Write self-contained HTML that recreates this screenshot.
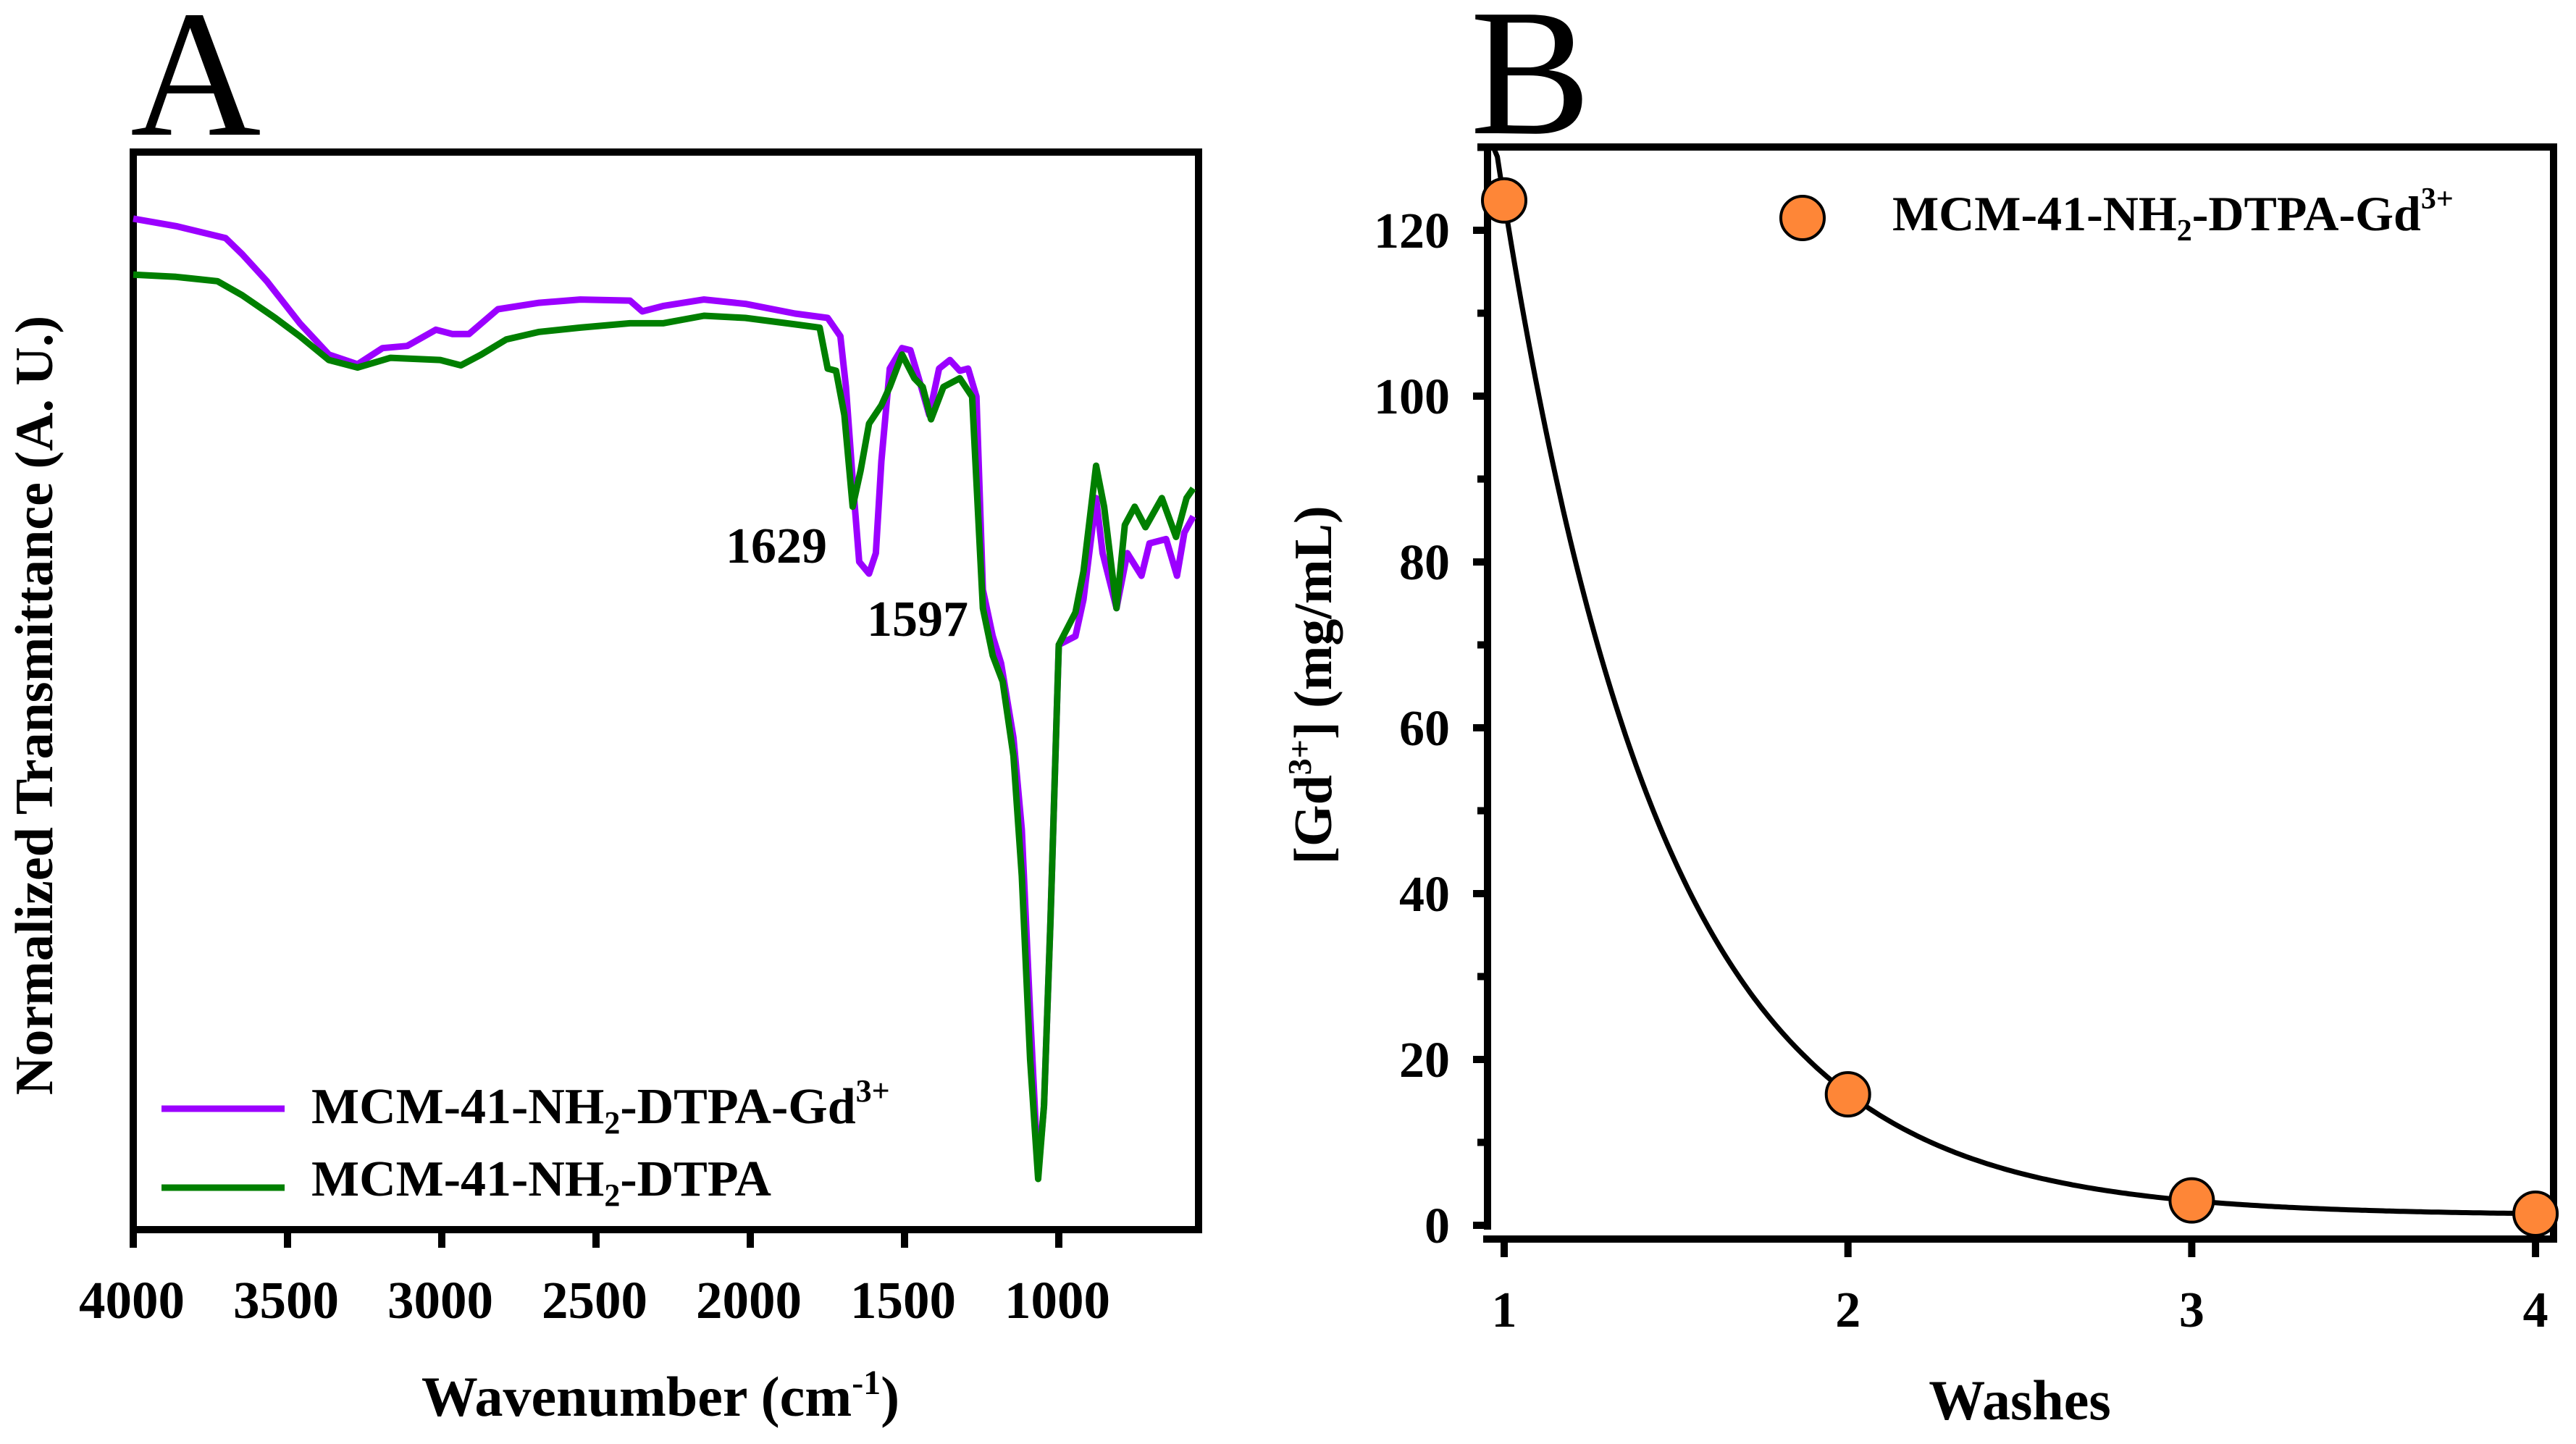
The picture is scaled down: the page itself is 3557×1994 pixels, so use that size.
<!DOCTYPE html>
<html><head><meta charset="utf-8"><style>
html,body{margin:0;padding:0;background:#fff;}
svg{display:block;font-family:"Liberation Serif","Times New Roman",serif;}
</style></head><body>
<svg id="fig" width="3557" height="1994" viewBox="0 0 3557 1994" xmlns="http://www.w3.org/2000/svg">
<g>
<text x="180" y="186" font-size="250">A</text>
<rect x="184" y="210" width="1471" height="1488" fill="none" stroke="#000" stroke-width="10"/>
<g id="aTicks"></g>
<g id="aSeries"></g>
<text x="1002" y="777" font-size="70" font-weight="bold">1629</text>
<text x="1197" y="878" font-size="70" font-weight="bold">1597</text>
<text transform="translate(72,974) rotate(-90)" text-anchor="middle" font-size="74" font-weight="bold">Normalized Transmittance (A. U.)</text>
<text x="912" y="1955" text-anchor="middle" font-size="78" font-weight="bold">Wavenumber (cm<tspan font-size="48" dy="-30">-1</tspan><tspan dy="30">)</tspan></text>
<g>
<line x1="223" y1="1531" x2="393" y2="1531" stroke="#9b00ff" stroke-width="9"/>
<text x="430" y="1551" font-size="70" font-weight="bold">MCM-41-NH<tspan font-size="44" dy="14">2</tspan><tspan dy="-14">-DTPA-Gd</tspan><tspan font-size="44" dy="-30">3+</tspan></text>
<line x1="223" y1="1640" x2="393" y2="1640" stroke="#007f00" stroke-width="9"/>
<text x="430" y="1651" font-size="70" font-weight="bold">MCM-41-NH<tspan font-size="44" dy="14">2</tspan><tspan dy="-14">-DTPA</tspan></text>
</g>
</g>
<g>
<text x="2030" y="184" font-size="250">B</text>
<g stroke="#000" stroke-width="10" fill="none">
<line x1="2054" y1="198" x2="2054" y2="1698"/>
<line x1="2040" y1="203" x2="3531" y2="203"/>
<line x1="3526" y1="203" x2="3526" y2="1716"/>
<line x1="2048" y1="1711" x2="3531" y2="1711"/>
</g>
<g id="bTicks"></g>
<g id="bSeries"></g>
<text transform="translate(1838,946) rotate(-90)" text-anchor="middle" font-size="74" font-weight="bold">[Gd<tspan font-size="46" dy="-28">3+</tspan><tspan dy="28">] (mg/mL)</tspan></text>
<text x="2789" y="1960" text-anchor="middle" font-size="78" font-weight="bold">Washes</text>
<g>
<circle cx="2489" cy="301" r="30" fill="#fe8637" stroke="#000" stroke-width="4"/>
<text x="2613" y="318" font-size="68" font-weight="bold">MCM-41-NH<tspan font-size="42" dy="14">2</tspan><tspan dy="-14">-DTPA-Gd</tspan><tspan font-size="42" dy="-30">3+</tspan></text>
</g>
</g>
</svg>
<script>
const NS="http://www.w3.org/2000/svg";
// Panel A data
const aTickValues=[4000,3500,3000,2500,2000,1500,1000];
const gdWavenumber=[4000,3861,3701,3647,3567,3460,3366,3273,3192,3112,3019,2965,2912,2818,2684,2551,2390,2350,2283,2150,2016,1855,1749,1708,1690,1668,1647,1615,1593,1575,1548,1508,1481,1454,1420,1388,1353,1321,1294,1267,1246,1214,1187,1147,1120,1093,1067,1048,1027,1000,946,920,879,858,813,778,732,706,652,617,593,564];
const gdTransmittance=[93.7,93.0,91.9,90.4,87.9,84.0,81.1,80.2,81.7,81.9,83.4,83.0,83.0,85.3,85.9,86.2,86.1,85.1,85.6,86.2,85.8,84.9,84.5,82.8,78.1,69.5,61.9,60.8,62.7,71.2,79.8,81.7,81.5,78.9,75.5,79.8,80.6,79.6,79.8,77.2,59.3,55.0,52.5,45.6,37.1,20.1,5.1,11.5,28.6,54.2,55.0,58.4,67.8,62.7,57.6,62.7,60.6,63.6,64.0,60.6,64.6,66.1];
const dtpaWavenumber=[4000,3861,3727,3647,3540,3460,3366,3273,3166,3005,2938,2872,2791,2684,2551,2390,2283,2150,2016,1855,1775,1749,1722,1695,1668,1642,1615,1575,1548,1508,1468,1441,1414,1374,1321,1281,1246,1214,1182,1147,1120,1093,1067,1048,1027,1000,946,920,879,853,813,786,754,719,666,620,586,564];
const dtpaTransmittance=[88.5,88.3,87.9,86.6,84.5,82.8,80.6,79.9,80.8,80.6,80.1,81.1,82.5,83.2,83.6,84.0,84.0,84.7,84.5,83.9,83.6,79.8,79.6,75.5,67.0,70.4,74.7,76.4,78.1,81.1,78.9,78.1,75.1,78.1,78.9,77.2,57.6,53.2,50.8,43.9,32.8,15.8,4.7,11.5,28.6,54.2,57.2,61.0,70.8,67.0,57.6,65.3,67.0,65.1,67.8,64.2,67.8,68.7];
// Panel B data
const washes=[1,2,3,4];
const gdConc=[123.6,15.8,3.0,1.4];
const bMajorTicks=[0,20,40,60,80,100,120];
const bMinorTicks=[10,30,50,70,90,110,130];
const fitA=122.4, fitB=2.12, fitC=1.2;

function xA(w){return 184+(4000-w)*0.426;}
function yA(v){return 1698-v*14.9;}
function xB(n){return 2077+(n-1)*474.7;}
function yB(v){return 1692-v*11.45;}
function mk(tag,attrs,parent){const e=document.createElementNS(NS,tag);for(const k in attrs)e.setAttribute(k,attrs[k]);parent.appendChild(e);return e;}

const aT=document.getElementById('aTicks');
aTickValues.forEach(v=>{
  const t=mk('line',{x1:xA(v),y1:1698,x2:xA(v),y2:1723,stroke:'#000','stroke-width':10},aT);
  
  
  const l=mk('text',{x:xA(v)-2,y:1820,'text-anchor':'middle','font-size':73,'font-weight':'bold'},aT);
  l.textContent=v;
  
  
});
const aS=document.getElementById('aSeries');
function line(ws,vs,color,name){
  const d=ws.map((w,i)=>(i?'L':'M')+xA(w).toFixed(1)+','+yA(vs[i]).toFixed(1)).join(' ');
  const p=mk('path',{d:d,fill:'none',stroke:color,'stroke-width':9,'stroke-linejoin':'round'},aS);
  
  
}
line(gdWavenumber,gdTransmittance,'#9b00ff','series-mcm41-dtpa-gd');
line(dtpaWavenumber,dtpaTransmittance,'#007f00','series-mcm41-dtpa');

const bT=document.getElementById('bTicks');
bMajorTicks.forEach(v=>{
  const t=mk('line',{x1:2034,y1:yB(v),x2:2054,y2:yB(v),stroke:'#000','stroke-width':10},bT);
  
  
  const l=mk('text',{x:2002,y:yB(v)+24,'text-anchor':'end','font-size':70,'font-weight':'bold'},bT);
  l.textContent=v;
  
  
});
bMinorTicks.forEach(v=>{
  const t=mk('line',{x1:2040,y1:Math.max(yB(v),203),x2:2054,y2:Math.max(yB(v),203),stroke:'#000','stroke-width':10},bT);
  
  
});
washes.forEach(n=>{
  const t=mk('line',{x1:xB(n),y1:1711,x2:xB(n),y2:1736,stroke:'#000','stroke-width':10},bT);
  
  
  const l=mk('text',{x:xB(n),y:1832,'text-anchor':'middle','font-size':70,'font-weight':'bold'},bT);
  l.textContent=n;
  
  
});
const bS=document.getElementById('bSeries');
let d='';
for(let i=0;i<=300;i++){const x=0.97+i*(3.03/300);const v=fitA*Math.exp(-fitB*(x-1))+fitC;d+=(i?'L':'M')+xB(x).toFixed(1)+','+Math.max(yB(v),205).toFixed(1)+' ';}
const fit=mk('path',{d:d,fill:'none',stroke:'#000','stroke-width':7},bS);


washes.forEach((n,i)=>{
  const c=mk('circle',{cx:xB(n),cy:yB(gdConc[i]),r:30,fill:'#fe8637',stroke:'#000','stroke-width':4},bS);
  
  
});
</script>
</body></html>
